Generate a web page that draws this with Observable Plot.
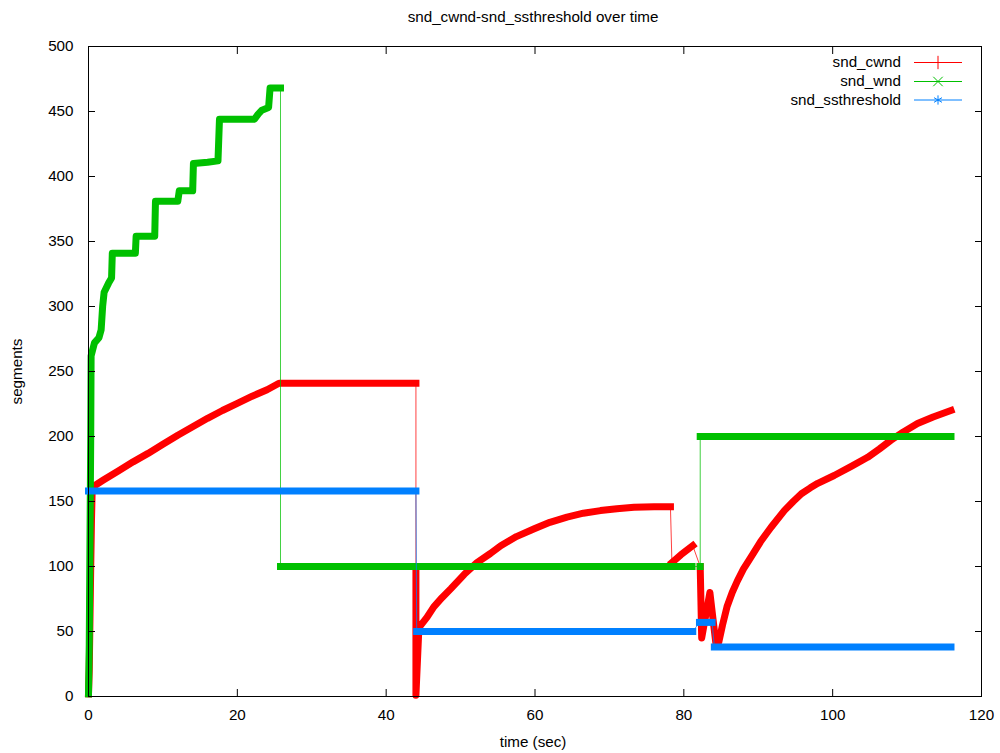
<!DOCTYPE html>
<html>
<head>
<meta charset="utf-8">
<script src="https://cdn.jsdelivr.net/npm/d3@7"></script>
<script src="https://cdn.jsdelivr.net/npm/@observablehq/plot@0.6"></script>
<style>
  html, body { margin: 0; padding: 0; background: #fff; }
  #chart svg { display: block; }
</style>
</head>
<body>
<div id="chart"></div>
<script>
// ---- chart texts ----
const titleText = "snd_cwnd-snd_ssthreshold over time";
const xLabelText = "time (sec)";
const yLabelText = "segments";
const seriesNames = ["snd_cwnd", "snd_wnd", "snd_ssthreshold"];
const seriesColors = ["#ff0000", "#00c000", "#0080ff"];
const seriesSymbols = ["plus", "times", "asterisk"];

// ---- ticks ----
const xTicks = [0, 20, 40, 60, 80, 100, 120];
const yTicks = [0, 50, 100, 150, 200, 250, 300, 350, 400, 450, 500];

// ---- snd_cwnd (time, value, run of densely sampled points) ----
const cwndTime  = [0.0, 0.1, 0.2, 0.3, 0.4, 0.5, 2, 4, 6, 8, 10, 12, 14, 16, 18, 20, 22, 24, 25.6, 44.0,
                   44.0, 44.0, 44.4, 45.5, 46.4, 47.5, 48.7, 50.5, 52.2, 54.0, 55.4, 57.5, 59.9, 62.0, 64.3, 66.5, 68.8, 71.0, 73.3, 76.0, 78.2,
                   78.4, 79.6, 81.2,
                   82.2, 82.4, 83.5, 84.3, 84.7, 85.2, 85.8, 86.5, 87.2, 88.0, 89.0, 90.3, 91.7, 93.5, 94.7, 95.8, 97.0, 98.0,
                   100.2, 102.5, 104.7, 106.3, 107.8, 109.5, 111.4, 113.5, 115.9];
const cwndValue = [2, 20, 60, 100, 135, 161, 166.5, 173.5, 180.5, 187, 194, 201, 207.5, 214, 220, 225.5, 231, 236, 241, 241,
                   99, 1, 53, 61, 69, 76, 83, 94, 103, 110, 116, 123, 129, 134, 138, 141, 143, 144.5, 145.5, 146, 146,
                   103, 109, 116,
                   100, 45, 80, 41, 42, 55, 69, 80, 89, 98, 107, 119, 130, 143, 150, 156, 160.5, 164,
                   170, 177, 184, 190.5, 197, 203.5, 210, 215, 220];
const cwndRun   = [1, 1, 1, 1, 1, 1, 1, 1, 1, 1, 1, 1, 1, 1, 1, 1, 1, 1, 1, 1,
                   2, 2, 2, 2, 2, 2, 2, 2, 2, 2, 2, 2, 2, 2, 2, 2, 2, 2, 2, 2, 2,
                   3, 3, 3,
                   4, 4, 4, 4, 4, 4, 4, 4, 4, 4, 4, 4, 4, 4, 4, 4, 4, 4,
                   4, 4, 4, 4, 4, 4, 4, 4, 4];

// ---- snd_wnd ----
const wndTime  = [0.0, 0.1, 0.2, 0.3, 0.35, 0.8, 1.4, 1.7, 1.9, 2.1, 2.7, 3.1, 3.2, 6.3, 6.4, 8.9, 9.0, 12.0, 12.2, 14.0,
                  14.1, 16.0, 17.4, 17.6, 22.3, 22.8, 23.3, 24.2, 24.4, 25.8,
                  25.8, 81.1,
                  82.2,
                  82.2, 115.9];
const wndValue = [2, 40, 120, 200, 262, 272, 276, 282, 300, 311, 318, 322, 341, 341, 354, 354, 381, 381, 389, 389,
                  410, 411, 412, 444, 444, 448, 451, 453, 468, 468,
                  100, 100,
                  100,
                  200, 200];
const wndRun   = [1, 1, 1, 1, 1, 1, 1, 1, 1, 1, 1, 1, 1, 1, 1, 1, 1, 1, 1, 1,
                  1, 1, 1, 1, 1, 1, 1, 1, 1, 1,
                  2, 2,
                  3,
                  4, 4];

// ---- snd_ssthreshold ----
const ssthTime  = [0.0, 44.0, 44.1, 81.2, 82.1, 83.8, 84.1, 115.9];
const ssthValue = [158, 158, 50, 50, 57, 57, 38, 38];
const ssthRun   = [1, 1, 2, 2, 3, 3, 4, 4];

const rows = (t, v, r) => t.map((d, i) => ({t: d, v: v[i], run: r[i]}));
const series = [
  rows(cwndTime, cwndValue, cwndRun),
  rows(wndTime, wndValue, wndRun),
  rows(ssthTime, ssthValue, ssthRun)
];

const FS = 15.2;
const marks = [];
series.forEach((data, i) => {
  marks.push(Plot.line(data, {x: "t", y: "v", stroke: seriesColors[i], strokeWidth: 1, strokeOpacity: 0.75}));
  marks.push(Plot.line(data, {x: "t", y: "v", z: "run", stroke: seriesColors[i], strokeWidth: 7,
    strokeLinecap: "square", strokeLinejoin: "round", curve: "linear"}));
});

const svg = Plot.plot({
  width: 1000,
  height: 753,
  marginLeft: 88,
  marginRight: 19,
  marginTop: 46,
  marginBottom: 57,
  style: {fontFamily: "'Liberation Sans', Arial, sans-serif", fontSize: FS + "px", color: "#000", background: "#fff"},
  x: {domain: [0, 120], label: null},
  y: {domain: [0, 500], label: null},
  marks: [
    ...marks,
    Plot.frame({stroke: "#000", strokeWidth: 1}),
    Plot.axisX(xTicks, {anchor: "bottom", tickSize: 0, tickPadding: 13, label: null, fill: "#000"}),
    Plot.axisX(xTicks, {anchor: "bottom", tickSize: -7, text: null, label: null}),
    Plot.axisX(xTicks, {anchor: "top", tickSize: -7, text: null, label: null}),
    Plot.axisY(yTicks, {anchor: "left", tickSize: 0, tickPadding: 15, label: null, fill: "#000"}),
    Plot.axisY(yTicks, {anchor: "left", tickSize: -7, text: null, label: null}),
    Plot.axisY(yTicks, {anchor: "right", tickSize: -7, text: null, label: null}),
    Plot.text([titleText], {frameAnchor: "top", dy: -29, dx: -2, lineAnchor: "middle", fill: "#000"}),
    Plot.text([xLabelText], {frameAnchor: "bottom", dy: 46, dx: -2, lineAnchor: "middle", fill: "#000"}),
    Plot.text([yLabelText], {frameAnchor: "left", dx: -71, rotate: -90, lineAnchor: "middle", textAnchor: "middle", fill: "#000"})
  ]
});

// ---- key (top right, inside the frame) ----
const key = d3.select(svg).append("g").attr("class", "key");
const keyRows = [62, 81, 99.5];
seriesNames.forEach((name, i) => {
  const y = keyRows[i];
  key.append("text").attr("x", 901).attr("y", y).attr("dy", "0.35em")
    .attr("text-anchor", "end").attr("fill", "#000").style("font-size", FS + "px").text(name);
  key.append("line").attr("x1", 914).attr("x2", 962).attr("y1", y + 0.5).attr("y2", y + 0.5)
    .attr("stroke", seriesColors[i]).attr("stroke-width", 1);
  const sym = {plus: d3.symbolPlus, times: d3.symbolX, asterisk: d3.symbolAsterisk}[seriesSymbols[i]];
  key.append("path").attr("transform", `translate(938,${y + 0.5})`)
    .attr("d", d3.symbol(sym, 60)())
    .attr("fill", "none").attr("stroke", seriesColors[i]).attr("stroke-width", 1);
});

document.getElementById("chart").appendChild(svg);
</script>
</body>
</html>
